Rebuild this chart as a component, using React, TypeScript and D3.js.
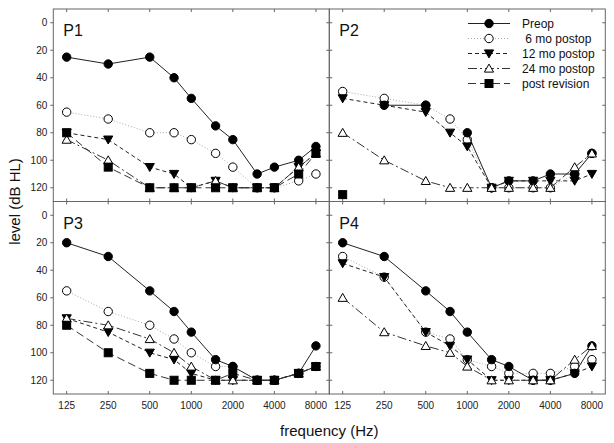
import React from "react";
import * as d3 from "d3";

const freqs = [125, 250, 500, 750, 1000, 1500, 2000, 3000, 4000, 6000, 8000];
const tickFreqs = [125, 250, 500, 1000, 2000, 4000, 8000];
const levelTicks = [0, 20, 40, 60, 80, 100, 120];
const seriesNames = ["Preop", " 6 mo postop", "12 mo postop", "24 mo postop", "post revision"];
const panelNames = ["P1", "P2", "P3", "P4"];

type V = number | null;
const N = null;
// values per panel, per series (order as seriesNames)
const p1Preop: V[] = [25, 30, 25, 40, 55, 75, 85, 110, 105, 100, 90];
const p1M6: V[] = [65, 70, 80, 80, 85, 95, 105, 120, 120, 115, 110];
const p1M12: V[] = [80, 85, 105, 110, 120, 115, 120, 120, 120, 105, 95];
const p1M24: V[] = [85, 100, 120, 120, 120, 115, 120, 120, 120, 105, 95];
const p1Rev: V[] = [80, 105, 120, 120, 120, 120, 120, 120, 120, 110, 95];

const p2Preop: V[] = [N, 60, 60, N, 80, 120, 115, 115, 110, 110, 95];
const p2M6: V[] = [50, 55, 60, 70, 85, 120, 120, 120, 120, 110, 95];
const p2M12: V[] = [55, 60, 65, 80, 90, 120, 115, 115, 115, 115, 110];
const p2M24: V[] = [80, 100, 115, 120, 120, 120, 120, 120, 120, 105, 95];
const p2Rev: V[] = [125, N, N, N, N, N, N, N, N, N, N];

const p3Preop: V[] = [20, 30, 55, 70, 85, 105, 110, 120, 120, 115, 95];
const p3M6: V[] = [55, 70, 80, 90, 100, 110, 110, 120, 120, 115, 110];
const p3M12: V[] = [75, 85, 100, 105, 115, 120, 120, 120, 120, 115, 110];
const p3M24: V[] = [75, 80, 90, 100, 110, 120, 120, 120, 120, 115, 110];
const p3Rev: V[] = [80, 100, 115, 120, 120, 120, 115, 120, 120, 115, 110];

const p4Preop: V[] = [20, 30, 55, 70, 85, 105, 110, 120, 120, 115, 95];
const p4M6: V[] = [30, 45, 85, 90, 105, 110, 115, 115, 115, 110, 105];
const p4M12: V[] = [35, 45, 85, 95, 105, 120, 120, 120, 120, 115, 110];
const p4M24: V[] = [60, 85, 95, 100, 110, 120, 120, 120, 120, 105, 95];
const p4Rev: V[] = [N, N, N, N, N, N, N, N, N, N, N];

const panelData: V[][][] = [
  [p1Preop, p1M6, p1M12, p1M24, p1Rev],
  [p2Preop, p2M6, p2M12, p2M24, p2Rev],
  [p3Preop, p3M6, p3M12, p3M24, p3Rev],
  [p4Preop, p4M6, p4M12, p4M24, p4Rev],
];

// drawing order of series (6 mo drawn underneath Preop)
const drawOrder = [1, 0, 2, 3, 4];

const styles = [
  { stroke: "#222", dash: "", marker: "circle", fill: "#000" },
  { stroke: "#aaa", dash: "1,2", marker: "circle", fill: "#fff" },
  { stroke: "#222", dash: "4,3", marker: "tridown", fill: "#000" },
  { stroke: "#333", dash: "9,3,2,3", marker: "triup", fill: "#fff" },
  { stroke: "#333", dash: "8,4", marker: "square", fill: "#000" },
];

const L = 53.3, R = 605.3, T = 9, B = 394;
const PW = (R - L) / 2;
const PH = (B - T) / 2;
const FONT = "'Liberation Sans', Arial, sans-serif";
const FRAME = "#666";

const x = d3.scaleLog().domain([100, 10000]).range([0, PW]);
const y = d3.scaleLinear().domain([-10, 130]).range([0, PH]);

function Marker({ kind, cx, cy, fill }: { kind: string; cx: number; cy: number; fill: string }) {
  const st = { fill, stroke: "#000", strokeWidth: 1 };
  if (kind === "circle") return <circle cx={cx} cy={cy} r={4.2} {...st} />;
  if (kind === "square") return <rect x={cx - 4} y={cy - 4} width={8} height={8} {...st} />;
  if (kind === "tridown")
    return <path d={`M${cx - 4.6},${cy - 3.6}L${cx + 4.6},${cy - 3.6}L${cx},${cy + 4.4}Z`} {...st} />;
  return <path d={`M${cx - 4.6},${cy + 3.6}L${cx + 4.6},${cy + 3.6}L${cx},${cy - 4.4}Z`} {...st} />;
}

function Panel({ idx }: { idx: number }) {
  const col = idx % 2, row = Math.floor(idx / 2);
  const ox = L + col * PW, oy = T + row * PH;
  const data = panelData[idx];
  const line = d3
    .line<V>()
    .defined((d) => d !== null)
    .x((_, i) => x(freqs[i]))
    .y((d) => y(d as number));
  const tl = 3;
  return (
    <g transform={`translate(${ox},${oy})`}>
      {tickFreqs.map((f) => (
        <g key={"xt" + f} stroke={FRAME} strokeWidth={1}>
          <line x1={x(f)} x2={x(f)} y1={0} y2={tl} />
          <line x1={x(f)} x2={x(f)} y1={PH} y2={PH - tl} />
        </g>
      ))}
      {levelTicks.map((v) => (
        <g key={"yt" + v} stroke={FRAME} strokeWidth={1}>
          {col === 0 ? (
            <line x1={0} x2={-tl} y1={y(v)} y2={y(v)} />
          ) : (
            <line x1={0} x2={tl} y1={y(v)} y2={y(v)} />
          )}
          <line x1={PW} x2={PW - tl} y1={y(v)} y2={y(v)} />
        </g>
      ))}
      <rect x={0} y={0} width={PW} height={PH} fill="none" stroke={FRAME} strokeWidth={1} />
      {col === 0 &&
        levelTicks.map((v) => (
          <text key={"yl" + v} x={-6} y={y(v)} dy="0.35em" textAnchor="end" fontSize={10} fontFamily={FONT} fill="#222">
            {v}
          </text>
        ))}
      {row === 1 &&
        tickFreqs.map((f) => (
          <text key={"xl" + f} x={x(f)} y={PH + 15} textAnchor="middle" fontSize={10} fontFamily={FONT} fill="#222">
            {f}
          </text>
        ))}
      <text x={10} y={27} fontSize={16} fontFamily={FONT} fill="#111">
        {panelNames[idx]}
      </text>
      {drawOrder.map((si) => (
        <g key={"s" + si}>
          <path d={line(data[si]) || ""} fill="none" stroke={styles[si].stroke} strokeWidth={1} strokeDasharray={styles[si].dash} />
          {data[si].map((v, i) =>
            v === null ? null : (
              <Marker key={"m" + i} kind={styles[si].marker} cx={x(freqs[i])} cy={y(v)} fill={styles[si].fill} />
            )
          )}
        </g>
      ))}
    </g>
  );
}

export default function App() {
  const lx1 = 468, lx2 = 510, ltx = 522;
  return (
    <svg width={614} height={443} style={{ position: "absolute", left: 0, top: 0, background: "#fff" }}>
      <rect x={0} y={0} width={614} height={443} fill="#fff" />
      {[0, 1, 2, 3].map((i) => (
        <Panel key={i} idx={i} />
      ))}
      {seriesNames.map((n, i) => {
        const ly = 23.5 + i * 15;
        return (
          <g key={"lg" + i}>
            <line x1={lx1} x2={lx2} y1={ly} y2={ly} stroke={styles[i].stroke} strokeWidth={1} strokeDasharray={styles[i].dash} />
            <Marker kind={styles[i].marker} cx={(lx1 + lx2) / 2} cy={ly} fill={styles[i].fill} />
            <text x={ltx} y={ly} dy="0.35em" fontSize={12} fontFamily={FONT} fill="#111" style={{ whiteSpace: "pre" }}>
              {n}
            </text>
          </g>
        );
      })}
      <text x={(L + R) / 2} y={436} textAnchor="middle" fontSize={15} fontFamily={FONT} fill="#111">
        frequency (Hz)
      </text>
      <text transform={`translate(20,${(T + B) / 2}) rotate(-90)`} textAnchor="middle" fontSize={15} fontFamily={FONT} fill="#111">
        level (dB HL)
      </text>
    </svg>
  );
}
